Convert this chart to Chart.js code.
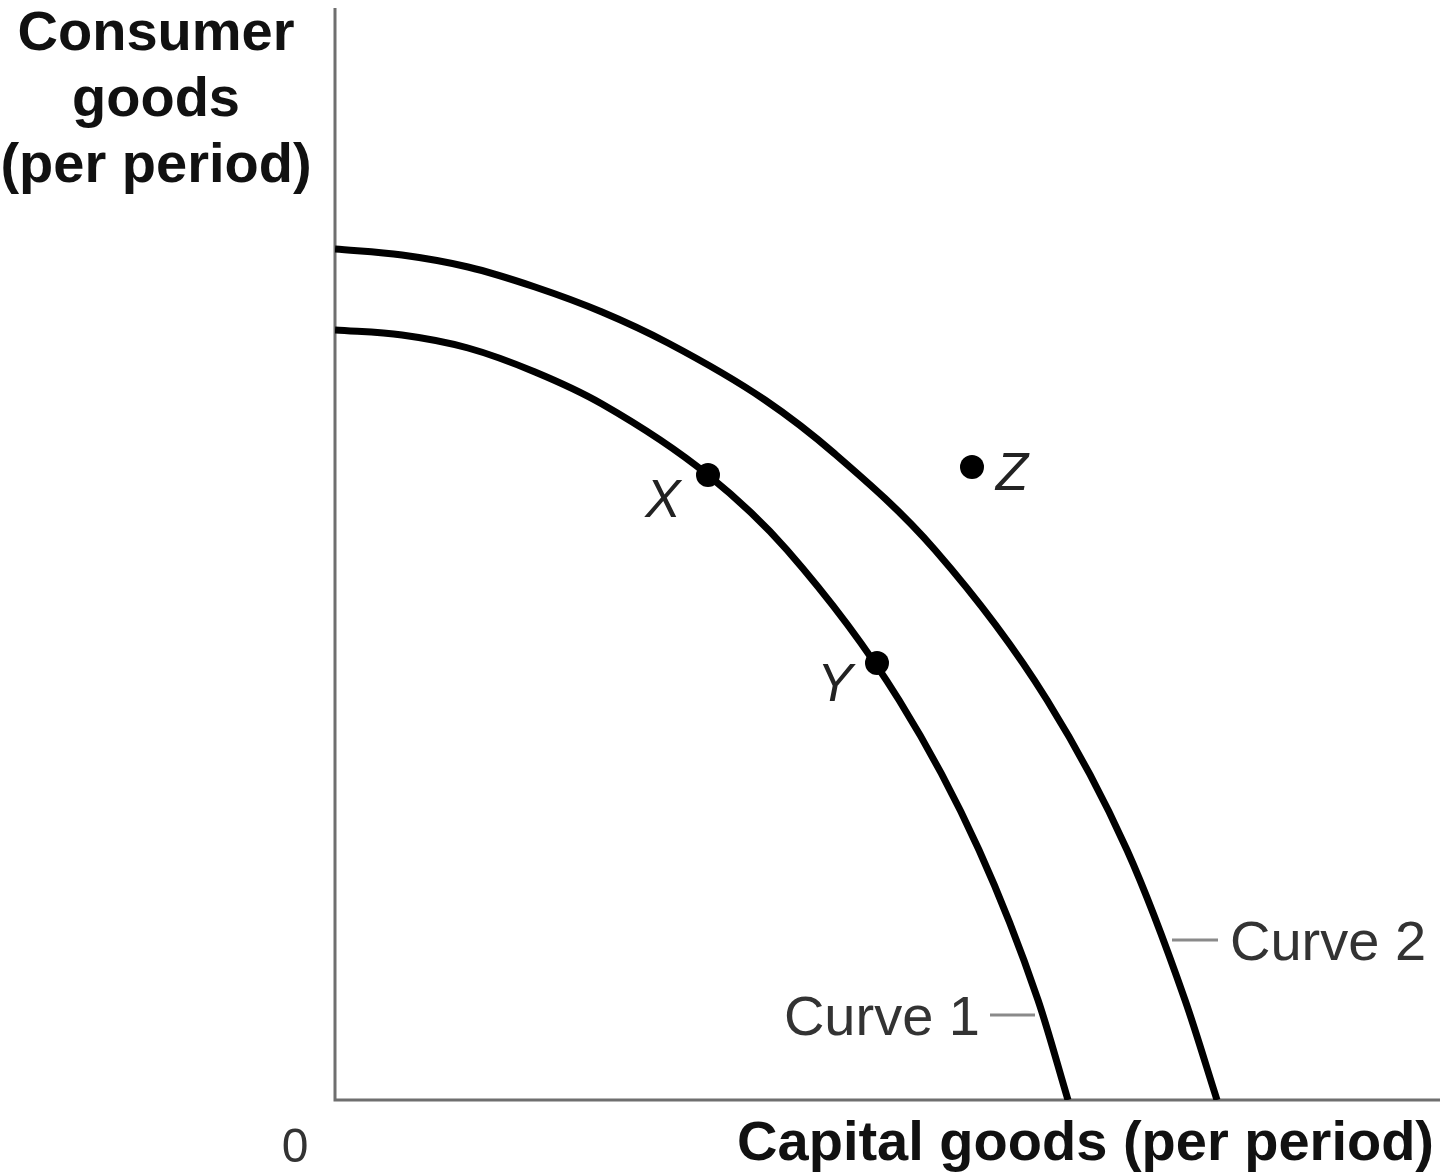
<!DOCTYPE html>
<html>
<head>
<meta charset="utf-8">
<script src="https://cdn.jsdelivr.net/npm/chart.js@4/dist/chart.umd.min.js"></script>
<style>
  html, body { margin: 0; padding: 0; background: #ffffff; }
  #wrap { width: 1440px; height: 1175px; position: relative; }
</style>
</head>
<body>
<div id="wrap"><canvas id="c" width="1440" height="1175"></canvas></div>
<script>
// Curve 1 (inner production possibilities frontier)
const curve1Capital  = [0, 6.7, 13.3, 20.0, 26.7, 37.3, 45.2, 56.4, 64.4, 70.3, 73.3];
const curve1Consumer = [77.0, 76.5, 75.2, 72.8, 69.6, 62.5, 55.0, 40.0, 25.0, 10.0, 0];
// Curve 2 (outer frontier)
const curve2Capital  = [0, 6.7, 13.3, 20.0, 26.7, 33.3, 43.0, 50.0, 60.0, 71.2, 79.2, 85.0, 88.2];
const curve2Consumer = [85.1, 84.5, 83.3, 81.3, 78.8, 75.7, 70.0, 64.6, 55.0, 40.0, 25.0, 10.0, 0];
// Labelled points
const pointNames    = ['X', 'Y', 'Z'];
const pointCapital  = [37.3, 54.2, 63.7];
const pointConsumer = [62.5, 43.7, 63.3];
// Curve names
const curveNames = ['Curve 1', 'Curve 2'];
// Axis titles
const yTitleLines = ['Consumer', 'goods', '(per period)'];
const xTitle = 'Capital goods (per period)';
const originLabel = '0';

function toXY(xs, ys) { return xs.map((x, i) => ({ x: x, y: ys[i] })); }

const FONT = '"Liberation Sans", Arial, Helvetica, sans-serif';

const overlay = {
  id: 'overlay',
  beforeDatasetsDraw(chart) {
    const { ctx, chartArea: a } = chart;
    ctx.save();
    ctx.strokeStyle = '#6f6f6f';
    ctx.lineWidth = 3;
    ctx.lineCap = 'butt';
    ctx.beginPath();
    ctx.moveTo(a.left, a.top);
    ctx.lineTo(a.left, a.bottom);
    ctx.lineTo(a.right, a.bottom);
    ctx.stroke();
    ctx.restore();
  },
  afterDatasetsDraw(chart) {
    const { ctx, chartArea: a, scales } = chart;
    const sx = scales.x, sy = scales.y;
    ctx.save();
    // Y axis title
    ctx.fillStyle = '#111';
    ctx.font = 'bold 56px ' + FONT;
    ctx.textAlign = 'center';
    ctx.textBaseline = 'alphabetic';
    const yb = [50, 116, 182];
    yTitleLines.forEach((t, i) => ctx.fillText(t, 156, yb[i]));
    // X axis title
    ctx.textAlign = 'right';
    ctx.fillText(xTitle, 1434, 1160);
    // Origin label
    ctx.font = '48px ' + FONT;
    ctx.fillStyle = '#333';
    ctx.textAlign = 'center';
    ctx.fillText(originLabel, a.left - 40, 1162);

    // Point labels
    ctx.font = 'italic 53px ' + FONT;
    ctx.fillStyle = '#222';
    const offs = [[-45, 42], [-42, 38], [40, 23]];
    pointNames.forEach((n, i) => {
      const px = sx.getPixelForValue(pointCapital[i]);
      const py = sy.getPixelForValue(pointConsumer[i]);
      ctx.fillText(n, px + offs[i][0], py + offs[i][1]);
    });

    // Curve labels with leader lines
    ctx.strokeStyle = '#8a8a8a';
    ctx.lineWidth = 3;
    const leaders = [
      { x0: 65.5, x1: 70.0, y: 8.5 },
      { x0: 83.7, x1: 88.3, y: 16.0 }
    ];
    ctx.font = '56px ' + FONT;
    ctx.fillStyle = '#333';
    leaders.forEach((l, i) => {
      const y = sy.getPixelForValue(l.y);
      const x0 = sx.getPixelForValue(l.x0);
      const x1 = sx.getPixelForValue(l.x1);
      ctx.beginPath();
      ctx.moveTo(x0, y);
      ctx.lineTo(x1, y);
      ctx.stroke();
      if (i === 0) {
        ctx.textAlign = 'right';
        ctx.fillText(curveNames[i], x0 - 10, y + 20);
      } else {
        ctx.textAlign = 'left';
        ctx.fillText(curveNames[i], x1 + 12, y + 20);
      }
    });
    ctx.restore();
  }
};

const lineStyle = {
  showLine: true,
  borderColor: '#000',
  borderWidth: 7,
  pointRadius: 0,
  cubicInterpolationMode: 'monotone',
  fill: false
};

new Chart(document.getElementById('c'), {
  type: 'scatter',
  data: {
    datasets: [
      Object.assign({ label: curveNames[0], data: toXY(curve1Capital, curve1Consumer) }, lineStyle),
      Object.assign({ label: curveNames[1], data: toXY(curve2Capital, curve2Consumer) }, lineStyle),
      {
        label: 'Points',
        data: toXY(pointCapital, pointConsumer),
        showLine: false,
        pointRadius: 12,
        pointBackgroundColor: '#000',
        pointBorderColor: '#000',
        pointBorderWidth: 0
      }
    ]
  },
  options: {
    responsive: false,
    animation: false,
    devicePixelRatio: 1,
    layout: { autoPadding: false, padding: { left: 335, right: 0, top: 8, bottom: 75 } },
    plugins: { legend: { display: false }, tooltip: { enabled: false } },
    scales: {
      x: { type: 'linear', min: 0, max: 110.5, display: false },
      y: { type: 'linear', min: 0, max: 109.2, display: false }
    }
  },
  plugins: [overlay]
});
</script>
</body>
</html>
